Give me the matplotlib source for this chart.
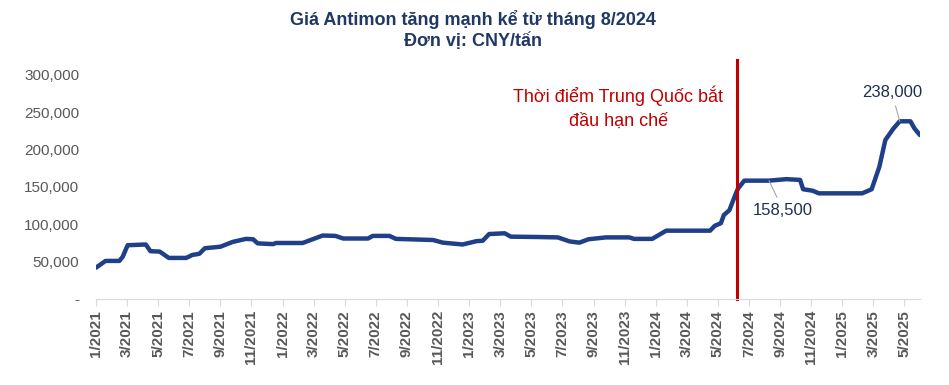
import matplotlib
matplotlib.use("Agg")
import matplotlib.pyplot as plt
import pandas as pd

plt.rcParams['font.family'] = ['Liberation Sans', 'DejaVu Sans']

# Antimony price, CNY/ton
dates = ['2021-01-01', '2021-01-20', '2021-02-15', '2021-02-21', '2021-03-02',
         '2021-04-07', '2021-04-16', '2021-05-04', '2021-05-22', '2021-06-25',
         '2021-07-07', '2021-07-21', '2021-08-01', '2021-09-01', '2021-09-25',
         '2021-10-21', '2021-11-04', '2021-11-13', '2021-12-13', '2021-12-19',
         '2022-02-09', '2022-03-19', '2022-04-13', '2022-04-28', '2022-06-16',
         '2022-06-25', '2022-07-28', '2022-08-10', '2022-10-22', '2022-11-10',
         '2022-12-19', '2023-01-16', '2023-01-28', '2023-02-09', '2023-03-10',
         '2023-03-22', '2023-05-16', '2023-06-22', '2023-07-16', '2023-08-04',
         '2023-08-22', '2023-09-25', '2023-11-10', '2023-11-19', '2023-12-25',
         '2024-01-22', '2024-04-16', '2024-04-25', '2024-05-07', '2024-05-13',
         '2024-05-24', '2024-06-07', '2024-06-10', '2024-06-22', '2024-08-10',
         '2024-09-13', '2024-10-10', '2024-10-16', '2024-11-04', '2024-11-16',
         '2025-02-09', '2025-02-26', '2025-03-13', '2025-03-25', '2025-04-10',
         '2025-04-22', '2025-05-13', '2025-05-21', '2025-06-01']
prices = [42000, 51000, 51000, 56500, 72000,
          73000, 64000, 63500, 55000, 55000,
          59000, 60500, 68000, 70000, 76500,
          80500, 80000, 74500, 73500, 75000,
          75000, 85000, 84500, 81000, 81000,
          84500, 84500, 80500, 79000, 75500,
          73000, 77500, 78000, 87000, 88000,
          83500, 83000, 82500, 77000, 75500,
          80000, 82500, 82500, 80500, 80500,
          91500, 91500, 98000, 101500, 112500,
          119000, 143500, 148000, 158500, 158500,
          160500, 159500, 147000, 145000, 141500,
          141500, 147000, 177000, 213000, 228500,
          238000, 238000, 228500, 219500]

restriction_date = '2024-06-07'
label_points = [('2024-08-10', 158500), ('2025-04-22', 238000)]


def month_pos(d):
    # fractional month index counted from 1/2021
    t = pd.Timestamp(d)
    return (t.year - 2021) * 12 + (t.month - 1) + (t.day - 1) / t.days_in_month


x = [month_pos(d) for d in dates]
tick_pos = list(range(0, 53, 2))
tick_labels = ['%d/%d' % (p % 12 + 1, 2021 + p // 12) for p in tick_pos]

navy = '#1F3F88'
gray = '#595959'

fig = plt.figure(figsize=(9.49, 3.85), dpi=100)
ax = fig.add_axes([0.1012, 0.2234, 0.8682, 0.5818])

ax.plot(x, prices, color=navy, lw=3.2, solid_capstyle='round', solid_joinstyle='round')

xr = month_pos(restriction_date)
ax.plot([xr, xr], [0, 320000], color='#C00000', lw=2.2, clip_on=False)
ax.text(33.6, 256000, 'Thời điểm Trung Quốc bắt\nđầu hạn chế', color='#C00000',
        fontsize=13, ha='center', va='center', linespacing=1.5)

# data labels
d0, v0 = label_points[0]
ax.annotate(f'{v0:,}', xy=(month_pos(d0), v0), xytext=(44.2, 119000),
            ha='center', va='center', fontsize=12, color='#1F2F4F',
            arrowprops=dict(arrowstyle='-', color='#A6A6A6', lw=0.8, shrinkA=2, shrinkB=0))
d1, v1 = label_points[1]
ax.annotate(f'{v1:,}', xy=(month_pos(d1), v1), xytext=(51.2, 276000),
            ha='center', va='center', fontsize=12, color='#1F2F4F',
            arrowprops=dict(arrowstyle='-', color='#A6A6A6', lw=0.8, shrinkA=2, shrinkB=0))

ax.set_xlim(0, 53)
ax.set_ylim(0, 300000)
ax.set_yticks(range(0, 300001, 50000))
ax.yaxis.set_major_formatter(plt.FuncFormatter(lambda v, p: '-' if v == 0 else f'{int(v):,}'))
ax.set_xticks(tick_pos)
ax.set_xticklabels(tick_labels, rotation=90, fontweight='bold')

ax.tick_params(axis='y', length=0, pad=12, labelsize=11, labelcolor=gray)
ax.tick_params(axis='x', length=5, width=0.8, color='#D9D9D9', pad=3,
               labelsize=11, labelcolor=gray)
for s in ['top', 'right', 'left']:
    ax.spines[s].set_visible(False)
ax.spines['bottom'].set_color('#D9D9D9')
ax.spines['bottom'].set_linewidth(0.8)

fig.text(0.4985, 0.922, 'Giá Antimon tăng mạnh kể từ tháng 8/2024\nĐơn vị: CNY/tấn',
         ha='center', va='center', fontsize=13, fontweight='bold', color='#1F3864',
         linespacing=1.2)

fig.savefig('out.png', dpi=100)
